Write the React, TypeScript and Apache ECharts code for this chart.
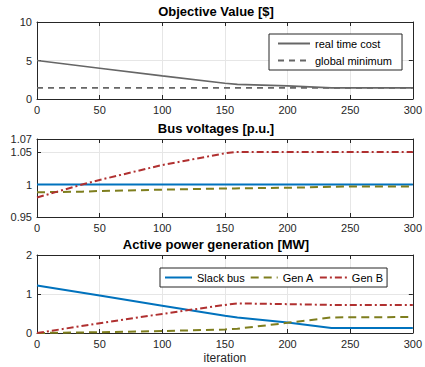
import React, { useEffect, useRef } from "react";
import * as echarts from "echarts";

const iterCost = [0, 50, 100, 150, 160, 200, 235, 300];
const realCost = [5.0, 4.0, 3.0, 2.05, 1.9, 1.7, 1.45, 1.45];
const iterMin = [0, 300];
const globalMin = [1.45, 1.45];

const iterV = [0, 36, 50, 100, 150, 158, 200, 250, 300];
const slackV = [1, 1, 1, 1, 1, 1, 1, 1, 1];
const genAV = [0.988, 0.989, 0.99, 0.992, 0.994, 0.994, 0.995, 0.997, 0.997];
const genBV = [0.98, 1.0, 1.007, 1.03, 1.048, 1.05, 1.05, 1.05, 1.05];

const iterP = [0, 50, 100, 150, 160, 200, 235, 300];
const slackP = [1.22, 0.96, 0.7, 0.44, 0.4, 0.27, 0.13, 0.13];
const genAP = [0, 0.02, 0.05, 0.09, 0.11, 0.26, 0.4, 0.41];
const genBP = [0, 0.25, 0.49, 0.72, 0.76, 0.74, 0.72, 0.72];

const titles = ["Objective Value [$]", "Bus voltages [p.u.]", "Active power generation [MW]"];
const xLabel = "iteration";

const zip = (xs: number[], ys: number[]) => xs.map((x, i) => [x, ys[i]]);

const FONT = "Liberation Sans";
const TXT = "#262626";
const BLUE = "#0072BD";
const OLIVE = "#7E7E1E";
const RED = "#B03030";
const GRAY = "#666666";

export default function App() {
  const ref = useRef<HTMLDivElement>(null);
  useEffect(() => {
    if (!ref.current) return;
    const chart = echarts.init(ref.current, undefined, { renderer: "svg" });
    const grids = [
      { left: 37, right: 10, top: 22, height: 77 },
      { left: 37, right: 10, top: 139, height: 78 },
      { left: 37, right: 10, top: 255, height: 78 },
    ];
    const yRanges = [
      { min: 0, max: 10, interval: 5 },
      { min: 0.95, max: 1.07, interval: 0.05 },
      { min: 0, max: 2, interval: 1 },
    ];
    const xAxis: any[] = [];
    const yAxis: any[] = [];
    grids.forEach((_, i) => {
      xAxis.push({
        type: "value",
        gridIndex: i,
        min: 0,
        max: 300,
        interval: 50,
        position: "bottom",
        axisLine: { show: true, onZero: false, lineStyle: { color: TXT, width: 1 } },
        axisTick: { show: true, inside: true, length: 4, lineStyle: { color: TXT } },
        axisLabel: { color: TXT, fontFamily: FONT, fontSize: 11, margin: 5 },
        splitLine: { show: true, lineStyle: { color: "#e6e6e6", width: 1 } },
        ...(i === 2
          ? {
              name: xLabel,
              nameLocation: "middle",
              nameGap: 19,
              nameTextStyle: { color: TXT, fontFamily: FONT, fontSize: 12 },
            }
          : {}),
      });
      xAxis.push({
        type: "value",
        gridIndex: i,
        min: 0,
        max: 300,
        interval: 50,
        position: "top",
        axisLine: { show: true, onZero: false, lineStyle: { color: TXT, width: 1 } },
        axisTick: { show: true, inside: true, length: 4, lineStyle: { color: TXT } },
        axisLabel: { show: false },
        splitLine: { show: false },
      });
      yAxis.push({
        type: "value",
        gridIndex: i,
        ...yRanges[i],
        position: "left",
        axisLine: { show: true, onZero: false, lineStyle: { color: TXT, width: 1 } },
        axisTick: { show: true, inside: true, length: 4, lineStyle: { color: TXT } },
        axisLabel: {
          color: TXT,
          fontFamily: FONT,
          fontSize: 11,
          margin: 5,
          formatter: (v: number) => String(Math.round(v * 100) / 100),
        },
        splitLine: { show: true, lineStyle: { color: "#e6e6e6", width: 1 } },
      });
      yAxis.push({
        type: "value",
        gridIndex: i,
        ...yRanges[i],
        position: "right",
        axisLine: { show: true, onZero: false, lineStyle: { color: TXT, width: 1 } },
        axisTick: { show: true, inside: true, length: 4, lineStyle: { color: TXT } },
        axisLabel: { show: false },
        splitLine: { show: false },
      });
    });

    const line = (name: string, data: number[][], idx: number, color: string, type: any, width: number) => ({
      name,
      type: "line",
      xAxisIndex: idx * 2,
      yAxisIndex: idx * 2,
      data,
      symbol: "none",
      showSymbol: false,
      lineStyle: { color, type, width },
      itemStyle: { color },
      z: 3,
    });

    const option: any = {
      animation: false,
      grid: grids,
      xAxis,
      yAxis,
      title: titles.map((t, i) => ({
        text: t,
        left: 216,
        textAlign: "center",
        top: [5, 122, 238][i],
        padding: 0,
        textStyle: { fontFamily: FONT, fontSize: 13, fontWeight: "bold", color: "#000" },
      })),
      legend: [
        {
          data: ["real time cost", "global minimum"],
          orient: "vertical",
          left: 269,
          top: 34,
          width: 134,
          itemWidth: 32,
          itemHeight: 10,
          itemGap: 6,
          padding: [4, 10, 4, 8],
          borderColor: TXT,
          borderWidth: 1,
          backgroundColor: "#fff",
          itemStyle: { opacity: 0 },
          textStyle: { fontFamily: FONT, fontSize: 11, color: "#000" },
        },
        {
          data: ["Slack bus", "Gen A", "Gen B"],
          orient: "horizontal",
          left: 160,
          top: 268,
          itemWidth: 27,
          itemHeight: 10,
          itemGap: 5,
          padding: [4, 4, 4, 4],
          borderColor: TXT,
          borderWidth: 1,
          backgroundColor: "#fff",
          itemStyle: { opacity: 0 },
          textStyle: { fontFamily: FONT, fontSize: 11, color: "#000" },
        },
      ],
      series: [
        line("real time cost", zip(iterCost, realCost), 0, GRAY, "solid", 1.6),
        line("global minimum", zip(iterMin, globalMin), 0, GRAY, [6, 5], 1.6),
        line("Slack V", zip(iterV, slackV), 1, BLUE, "solid", 2),
        line("Gen A V", zip(iterV, genAV), 1, OLIVE, [8, 5], 2),
        line("Gen B V", zip(iterV, genBV), 1, RED, [7, 3, 2, 3], 2),
        line("Slack bus", zip(iterP, slackP), 2, BLUE, "solid", 2),
        line("Gen A", zip(iterP, genAP), 2, OLIVE, [8, 5], 2),
        line("Gen B", zip(iterP, genBP), 2, RED, [7, 3, 2, 3], 2),
      ],
    };
    chart.setOption(option);
    return () => chart.dispose();
  }, []);
  return (
    <div
      ref={ref}
      style={{ position: "fixed", left: 0, top: 0, width: 425, height: 367, background: "#fff" }}
    />
  );
}
